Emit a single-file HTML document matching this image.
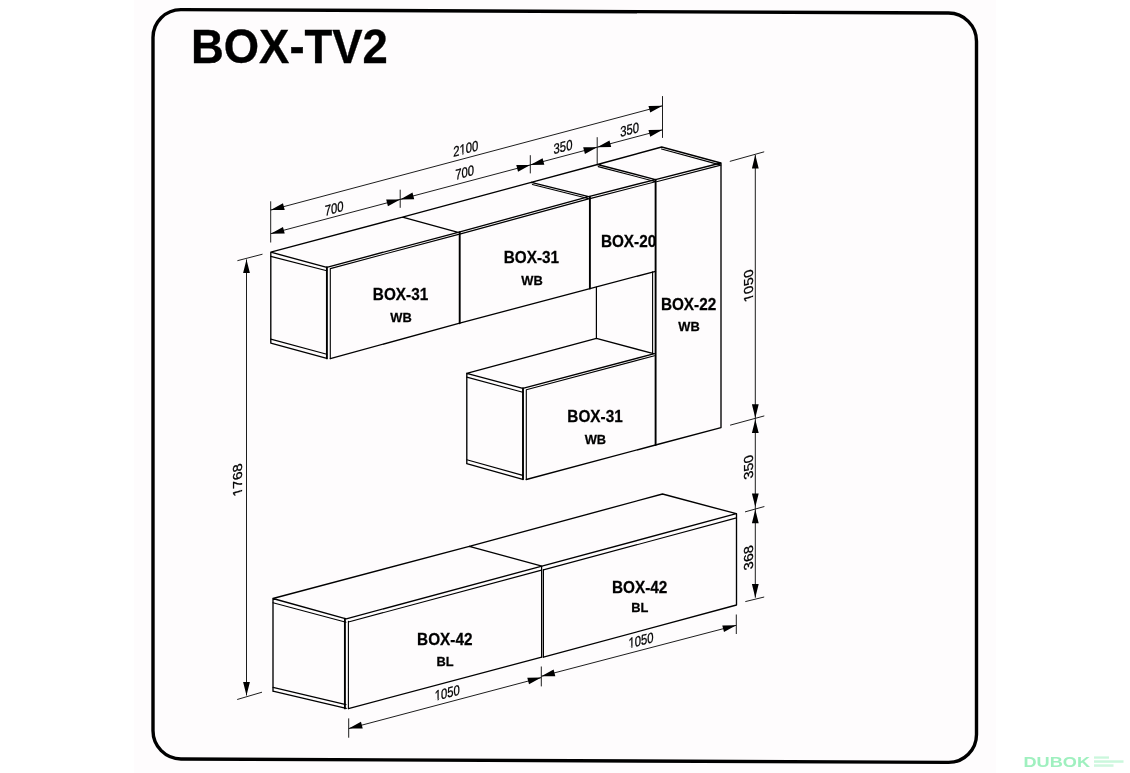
<!DOCTYPE html>
<html><head><meta charset="utf-8"><title>BOX-TV2</title>
<style>
html,body{margin:0;padding:0;background:#fff;}
body{width:1130px;height:773px;overflow:hidden;position:relative;font-family:"Liberation Sans",sans-serif;}
.paper{position:absolute;left:134px;top:0;width:862px;height:773px;background:#fefcfd;}
svg{position:absolute;left:0;top:0;will-change:transform;}
</style></head><body>
<div class="paper"></div>
<svg width="1130" height="773" viewBox="0 0 1130 773" font-family="Liberation Sans, sans-serif"><path d="M181,9.5 H948.5 A28,28 0 0 1 976.5,37.5 V730.8 A28,28 0 0 1 948.5,758.8 H181 A28,28 0 0 1 153,730.8 V37.5 A28,28 0 0 1 181,9.5 Z" fill="none" stroke="#000" stroke-width="3.4" transform="matrix(1,0.004493,0,1,0,-0.687)"/>
<path d="M270.8,252.2L326.8,267.3M270.8,252.2L270.8,343.1M270.8,343.1L326.8,358.4M326.8,267.3L458.1,232.3M330.3,358.6L459.7,323.2M270.8,252.2L402.5,217.1M402.5,217.1L531.2,182.3M531.2,182.3L597.5,164.5M597.5,164.5L661.7,147M402.5,217.1L458.1,232.3M458.1,232.3L588.7,196.6M459.7,323.2L589.9,288.6M531.2,182.3L588.7,196.6M588.7,196.6L655.5,179.6M589.9,288.6L655.5,271.3M597.5,164.5L655.5,179.6M661.7,147L720.8,163M655.5,179.6L720.8,163M721,163L721,427.6M655.5,445L721,427.6M466.7,373.3L596.4,338.4M596.4,338.4L653.5,353.6M466.7,373.3L522.8,388.3M466.8,373.3L466.8,463.6M466.7,463.6L522.8,479.3M522.8,388.3L654.5,353.6M526.3,479.5L655.5,445M272.9,598.5L346.2,618.8M273,598.5L273,691.2M272.9,691.2L346.2,708.4M272.9,598.5L469.3,546.3M469.3,546.3L662.5,494M469.3,546.3L541.9,566.2M662.5,494L736.3,513.7M346.2,618.8L541.9,566.2M541.9,566.2L736.3,513.7M348.4,708.6L541.7,657.1M543.4,657.1L736.5,605M736.5,513.7L736.5,605" fill="none" stroke="#000" stroke-width="1.35" stroke-linecap="round"/>
<path d="M270.8,256.4L326.8,270.8M270.8,339.1L326.8,354.3M330.3,268.6L330.3,358.6M330.3,268.6L459.5,234.1M459.7,234.1L589.5,198.6M532.4,184.5L588.2,198.5M589.9,198.6L655.5,181.7M598.2,166.6L655,181.5M661.5,149L720,164.9M656.5,181.7L720.8,165.1M652.6,271.8L652.6,353.8M466.8,377.1L522.8,392.3M466.8,459.8L522.8,475.4M526.3,390L526.3,479.5M526.3,389.7L654.5,355.8M273,602.7L346,622.2M273,687.4L346,704.6M348.4,621.4L348.4,708.6M348.4,622L541.6,570.1M543.4,569.9L736.5,517.9" fill="none" stroke="#000" stroke-width="1.1" stroke-linecap="round"/>
<path d="M326.9,267.3L326.9,358.4M459.7,232.3L459.7,323.2M589.9,196.6L589.9,288.6M655.6,179.6L655.6,445M523,388.3L523,479.3M344.9,618.8L344.9,708.4" fill="none" stroke="#000" stroke-width="1.9" stroke-linecap="round"/>
<path d="M596.4,287L596.4,338.4M541.6,566.2L541.6,657.1M543.4,569.5L543.4,657.1" fill="none" stroke="#000" stroke-width="1.2100000000000002" stroke-linecap="round"/>
<path d="M270.7,201.3L270.7,242.5M270.7,210.1L662.5,105.8M270.7,233.7L662.5,129.87M400.2,189.7L400.2,207.8M530.3,155.2L530.3,173.4M597.2,137.2L597.2,164.3M662.5,96.1L662.5,137.9M755.3,154.8L755.3,597.7M729.8,161.4L764.2,151.8M730.1,425.2L764.3,415.9M745,511.9L764.4,506.5M745.3,601.6L764.2,597M246.5,259.4L246.5,695.5M237.4,260.7L262.5,254.2M237.2,699.5L262,692.2M348.7,718.4L348.7,737.7M541.3,666.5L541.3,686.4M736.3,614.5L736.3,634M348.7,728.6L541.3,677.6M541.3,676.3L736.3,625.3" fill="none" stroke="#111" stroke-width="0.95"/>
<path d="M270.7,210.1L282.97,203.32L284.72,209.89ZM662.5,105.8L650.23,112.58L648.48,106.01ZM270.7,233.7L282.98,226.93L284.72,233.5ZM400.2,199.38L387.92,206.15L386.18,199.58ZM400.2,199.38L412.48,192.61L414.22,199.19ZM530.3,164.91L518.02,171.68L516.28,165.1ZM530.3,164.91L542.58,158.14L544.32,164.71ZM597.2,147.18L584.92,153.95L583.18,147.37ZM597.2,147.18L609.48,140.41L611.22,146.98ZM662.5,129.87L650.22,136.64L648.48,130.07ZM755.3,154.8L758.7,168.4L751.9,168.4ZM755.3,417.9L751.9,404.3L758.7,404.3ZM755.3,419.4L758.7,433L751.9,433ZM755.3,507L751.9,493.4L758.7,493.4ZM755.3,509.6L758.7,523.2L751.9,523.2ZM755.3,597.7L751.9,584.1L758.7,584.1ZM246.5,259.4L249.9,273L243.1,273ZM246.5,695.5L243.1,681.9L249.9,681.9ZM348.7,728.6L360.98,721.83L362.72,728.41ZM541.3,677.6L529.02,684.37L527.28,677.79ZM541.3,676.3L553.6,669.57L555.32,676.15ZM736.3,625.3L724,632.03L722.28,625.45Z" fill="#000"/>
<g transform="translate(190.88,63.40)  scale(0.9317,1)"><text x="0" y="0" font-weight="bold" font-style="normal" font-size="48.81" stroke="#000" stroke-width="0.35">BOX-TV2</text></g>
<g transform="translate(372.85,300.33)  scale(0.9661,1)"><text x="0" y="0" font-weight="bold" font-style="normal" font-size="15.87" stroke="#000" stroke-width="0.25">BOX-31</text></g>
<g transform="translate(390.27,321.65)  scale(0.9791,1)"><text x="0" y="0" font-weight="bold" font-style="normal" font-size="13.17" stroke="#000" stroke-width="0.25">WB</text></g>
<g transform="translate(503.70,263.02)  scale(0.9661,1)"><text x="0" y="0" font-weight="bold" font-style="normal" font-size="15.87" stroke="#000" stroke-width="0.25">BOX-31</text></g>
<g transform="translate(521.33,284.80)  scale(0.9791,1)"><text x="0" y="0" font-weight="bold" font-style="normal" font-size="13.17" stroke="#000" stroke-width="0.25">WB</text></g>
<g transform="translate(600.88,247.03)  scale(0.9661,1)"><text x="0" y="0" font-weight="bold" font-style="normal" font-size="15.87" stroke="#000" stroke-width="0.25">BOX-20</text></g>
<g transform="translate(660.88,309.77)  scale(0.9661,1)"><text x="0" y="0" font-weight="bold" font-style="normal" font-size="15.87" stroke="#000" stroke-width="0.25">BOX-22</text></g>
<g transform="translate(678.28,330.95)  scale(0.9791,1)"><text x="0" y="0" font-weight="bold" font-style="normal" font-size="13.17" stroke="#000" stroke-width="0.25">WB</text></g>
<g transform="translate(567.35,422.23)  scale(0.9661,1)"><text x="0" y="0" font-weight="bold" font-style="normal" font-size="15.87" stroke="#000" stroke-width="0.25">BOX-31</text></g>
<g transform="translate(584.67,443.85)  scale(0.9791,1)"><text x="0" y="0" font-weight="bold" font-style="normal" font-size="13.17" stroke="#000" stroke-width="0.25">WB</text></g>
<g transform="translate(417.12,645.02)  scale(0.9661,1)"><text x="0" y="0" font-weight="bold" font-style="normal" font-size="15.87" stroke="#000" stroke-width="0.25">BOX-42</text></g>
<g transform="translate(436.45,665.90)  scale(0.9791,1)"><text x="0" y="0" font-weight="bold" font-style="normal" font-size="13.17" stroke="#000" stroke-width="0.25">BL</text></g>
<g transform="translate(611.98,592.83)  scale(0.9661,1)"><text x="0" y="0" font-weight="bold" font-style="normal" font-size="15.87" stroke="#000" stroke-width="0.25">BOX-42</text></g>
<g transform="translate(631.20,611.60)  scale(0.9791,1)"><text x="0" y="0" font-weight="bold" font-style="normal" font-size="13.17" stroke="#000" stroke-width="0.25">BL</text></g>
<g transform="translate(453.27,156.88) matrix(1,-0.265,0,1,0,0) skewX(0) scale(0.7765,1)"><text x="0" y="0" font-weight="normal" font-style="normal" font-size="14.54" stroke="#000" stroke-width="0.3">2100</text><rect x="7.79" y="-1.60" width="3.93" height="2.91" fill="#fefcfd"/><rect x="13.26" y="-1.60" width="3.55" height="2.91" fill="#fefcfd"/></g>
<g transform="translate(324.75,215.90) matrix(1,-0.265,0,1,0,0) skewX(0) scale(0.7765,1)"><text x="0" y="0" font-weight="normal" font-style="normal" font-size="14.54" stroke="#000" stroke-width="0.3">700</text></g>
<g transform="translate(455.25,179.90) matrix(1,-0.265,0,1,0,0) skewX(0) scale(0.7765,1)"><text x="0" y="0" font-weight="normal" font-style="normal" font-size="14.54" stroke="#000" stroke-width="0.3">700</text></g>
<g transform="translate(553.60,154.25) matrix(1,-0.265,0,1,0,0) skewX(0) scale(0.7765,1)"><text x="0" y="0" font-weight="normal" font-style="normal" font-size="14.54" stroke="#000" stroke-width="0.3">350</text></g>
<g transform="translate(620.15,137.00) matrix(1,-0.265,0,1,0,0) skewX(0) scale(0.7765,1)"><text x="0" y="0" font-weight="normal" font-style="normal" font-size="14.54" stroke="#000" stroke-width="0.3">350</text></g>
<g transform="translate(752.58,300.73) matrix(0,-1,0.966,-0.257,0,0) scale(1.0780,1)"><text x="0" y="0" font-weight="normal" font-style="normal" font-size="13.47" stroke="#000" stroke-width="0.3">1050</text><rect x="-0.27" y="-1.48" width="3.64" height="2.69" fill="#fefcfd"/><rect x="4.79" y="-1.48" width="3.29" height="2.69" fill="#fefcfd"/></g>
<g transform="translate(752.92,478.12) matrix(0,-1,0.966,-0.257,0,0) scale(1.0780,1)"><text x="0" y="0" font-weight="normal" font-style="normal" font-size="13.47" stroke="#000" stroke-width="0.3">350</text></g>
<g transform="translate(752.62,568.65) matrix(0,-1,0.966,-0.257,0,0) scale(1.0780,1)"><text x="0" y="0" font-weight="normal" font-style="normal" font-size="13.47" stroke="#000" stroke-width="0.3">368</text></g>
<g transform="translate(241.82,495.00) matrix(0,-1,0.966,-0.257,0,0) scale(1.0780,1)"><text x="0" y="0" font-weight="normal" font-style="normal" font-size="13.47" stroke="#000" stroke-width="0.3">1768</text><rect x="-0.27" y="-1.48" width="3.64" height="2.69" fill="#fefcfd"/><rect x="4.79" y="-1.48" width="3.29" height="2.69" fill="#fefcfd"/></g>
<g transform="translate(434.75,701.08) matrix(1,-0.262,0,1,0,0) skewX(0) scale(0.7765,1)"><text x="0" y="0" font-weight="normal" font-style="normal" font-size="14.54" stroke="#000" stroke-width="0.3">1050</text><rect x="-0.29" y="-1.60" width="3.93" height="2.91" fill="#fefcfd"/><rect x="5.18" y="-1.60" width="3.55" height="2.91" fill="#fefcfd"/></g>
<g transform="translate(628.50,648.58) matrix(1,-0.262,0,1,0,0) skewX(0) scale(0.7765,1)"><text x="0" y="0" font-weight="normal" font-style="normal" font-size="14.54" stroke="#000" stroke-width="0.3">1050</text><rect x="-0.29" y="-1.60" width="3.93" height="2.91" fill="#fefcfd"/><rect x="5.18" y="-1.60" width="3.55" height="2.91" fill="#fefcfd"/></g>
<g fill="#9ff0bf"><text x="1023.5" y="766.6" font-weight="bold" font-size="14.3" textLength="66.5" lengthAdjust="spacingAndGlyphs">DUBOK</text><rect x="1094" y="756.4" width="15" height="2.3" opacity="0.55"/><rect x="1094" y="760.3" width="29.5" height="2.5" opacity="0.55"/><rect x="1094" y="764.3" width="19.5" height="2.5" opacity="0.5"/></g></svg>
</body></html>
